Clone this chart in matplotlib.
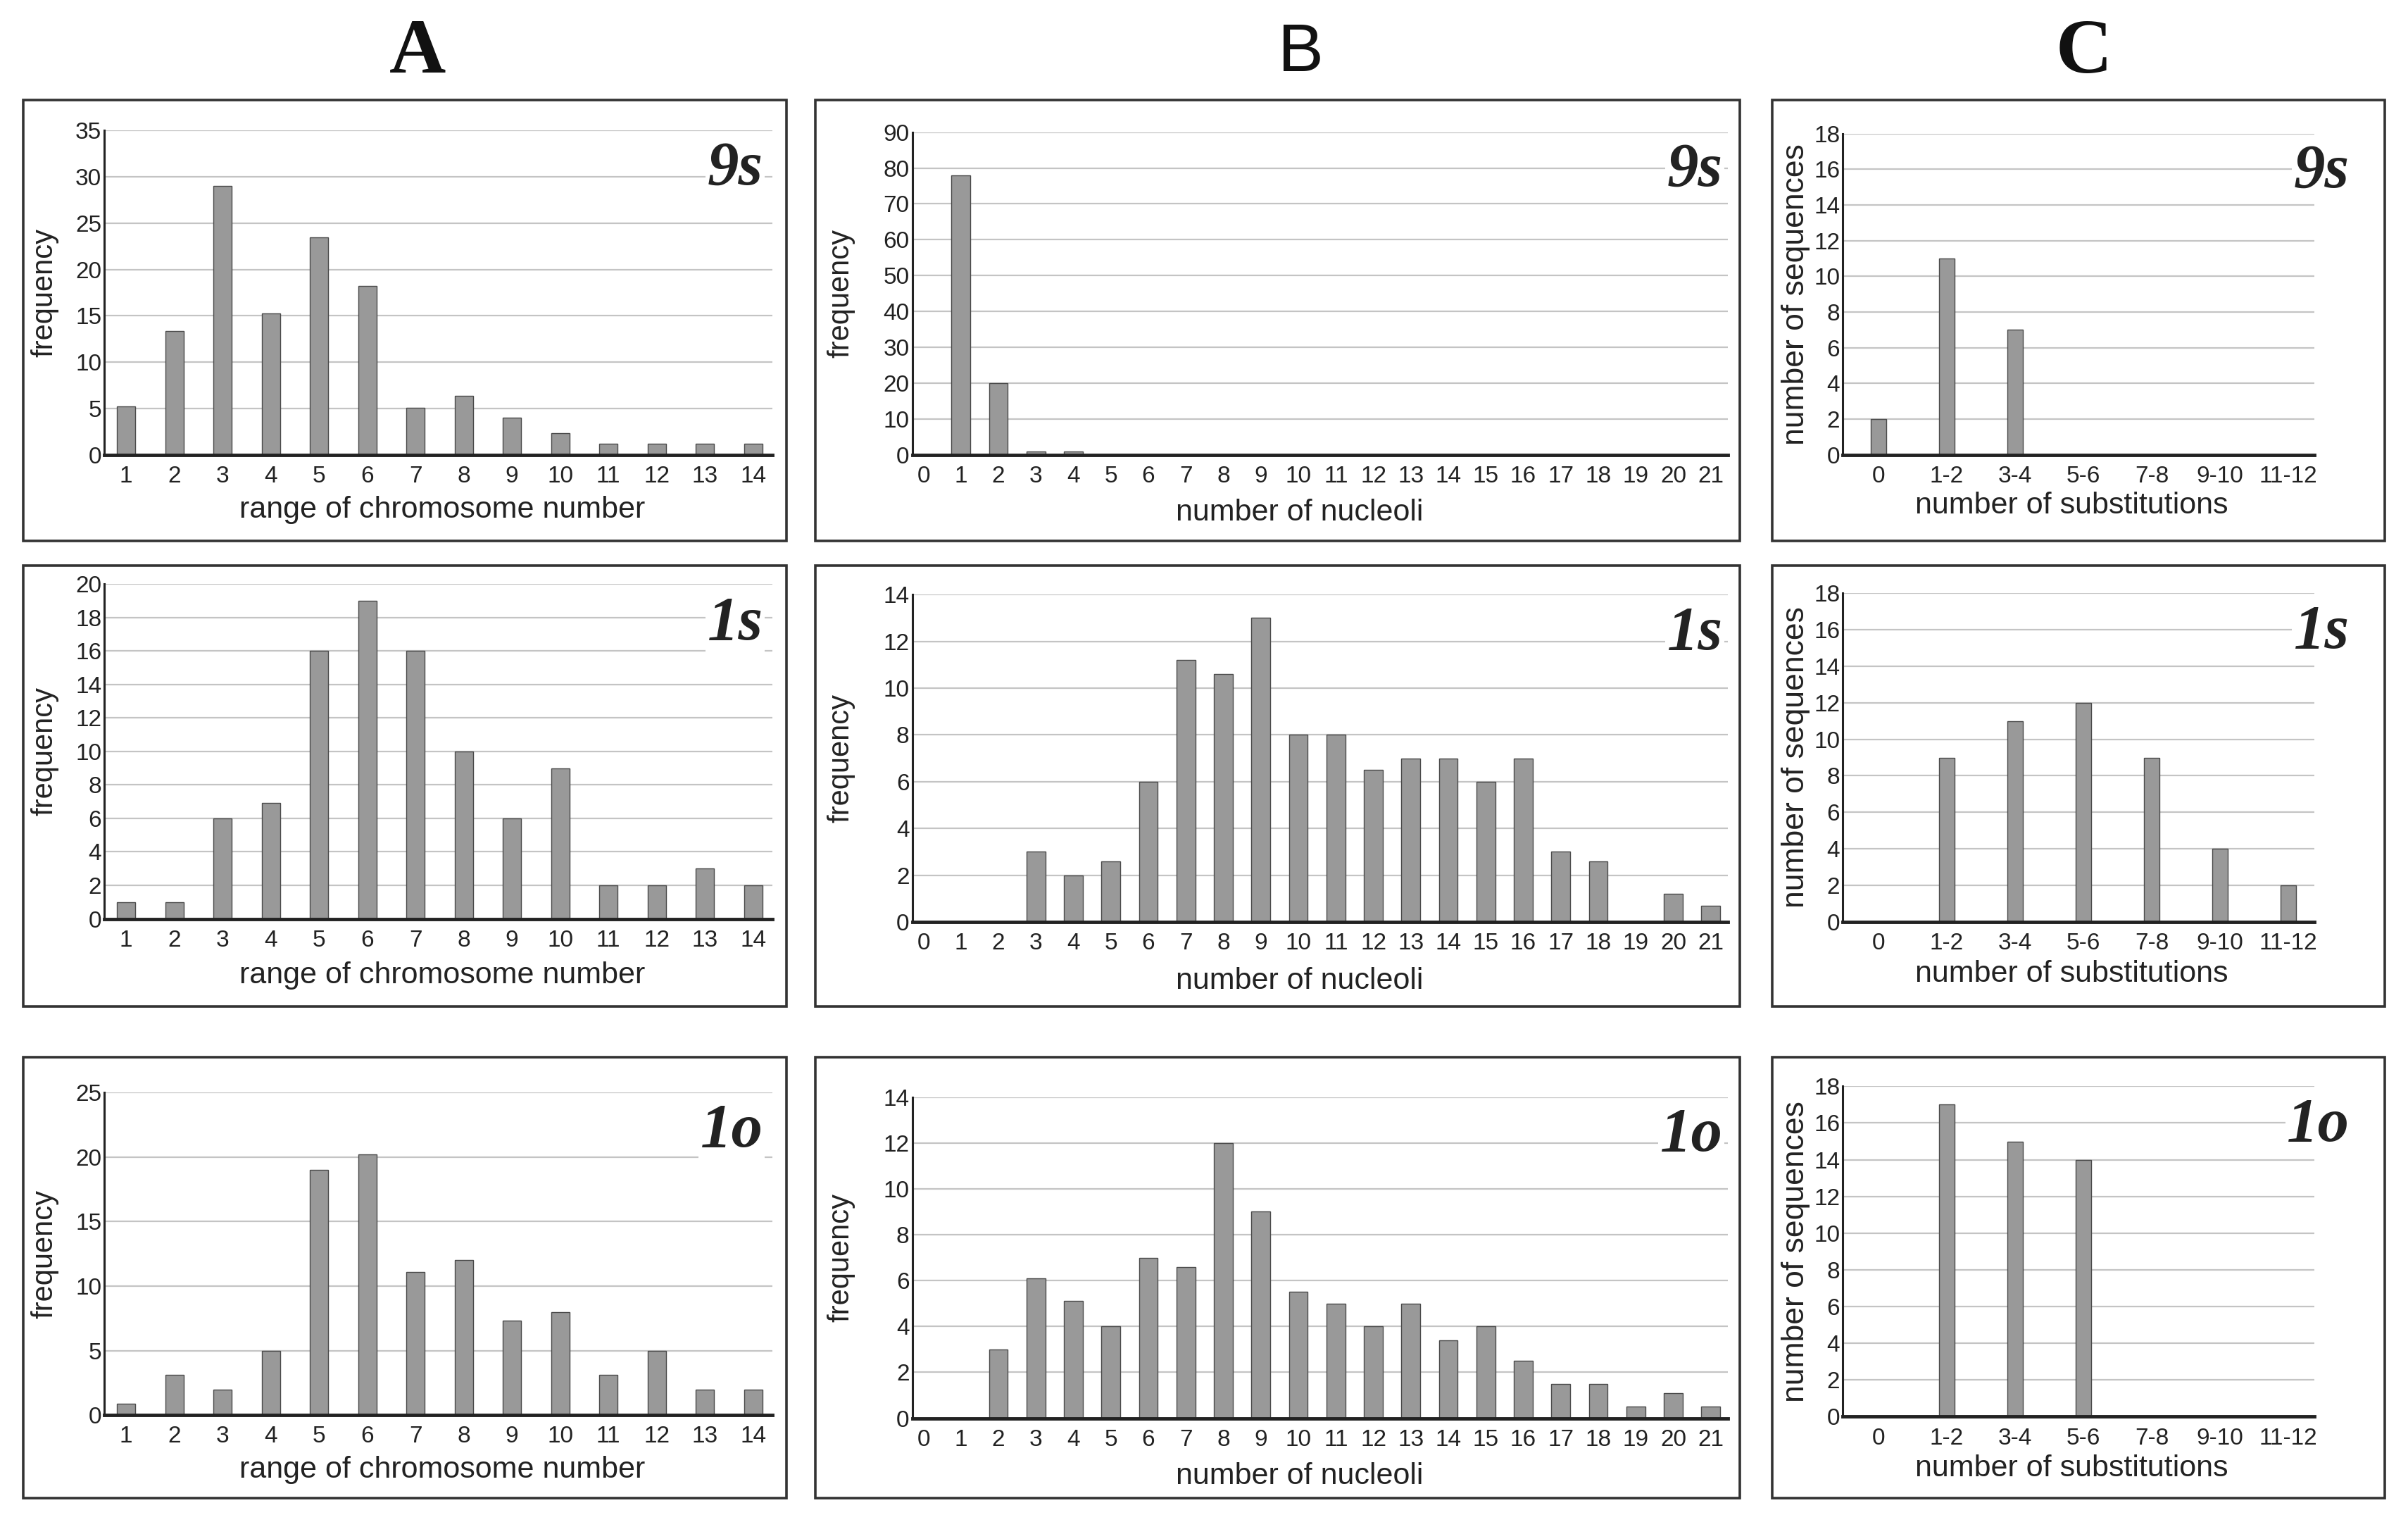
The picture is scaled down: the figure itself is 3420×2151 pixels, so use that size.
import matplotlib
matplotlib.use("Agg")
from matplotlib import pyplot as plt
from matplotlib.patches import Rectangle

# ---- data ----
chrom_range = list(range(1, 15))
nucleoli = list(range(0, 22))
substitutions = ["0", "1-2", "3-4", "5-6", "7-8", "9-10", "11-12"]

a_9s = [5.2, 13.4, 29, 15.3, 23.5, 18.2, 5.1, 6.4, 4, 2.3, 1.2, 1.2, 1.2, 1.2]
a_1s = [1, 1, 6, 6.9, 16, 19, 16, 10, 6, 9, 2, 2, 3, 2]
a_1o = [0.9, 3.1, 2, 5, 19, 20.2, 11.1, 12, 7.3, 8, 3.1, 5, 2, 2]

b_9s = [0, 78, 20, 1, 1, 0, 0, 0, 0, 0, 0, 0, 0, 0, 0, 0, 0, 0, 0, 0, 0, 0]
b_1s = [0, 0, 0, 3, 2, 2.6, 6, 11.2, 10.6, 13, 8, 8, 6.5, 7, 7, 6, 7, 3, 2.6, 0, 1.2, 0.7]
b_1o = [0, 0, 3, 6.1, 5.1, 4, 7, 6.6, 12, 9, 5.5, 5, 4, 5, 3.4, 4, 2.5, 1.5, 1.5, 0.5, 1.1, 0.5]

c_9s = [2, 11, 7, 0, 0, 0, 0]
c_1s = [0, 9, 11, 12, 9, 4, 2]
c_1o = [0, 17, 15, 14, 0, 0, 0]

row_names = ["9s", "1s", "1o"]
col_letters = ["A", "B", "C"]

plt.rcParams['font.family'] = ['Liberation Sans', 'DejaVu Sans']

W, H = 1568.0, 986.0   # layout measured on a scaled copy of the picture
fig = plt.figure(figsize=(34.2, 21.51), dpi=100)
fig.patch.set_facecolor("white")

# column settings: x values, labels, xlim, bar width, axis labels, placement
cols = [
    dict(x=chrom_range, labels=[str(v) for v in chrom_range], xlim=(0.55, 14.4), bw=0.38,
         xlabel="range of chromosome number", ylabel="frequency", ylsize=30,
         left=68, right=503, xl=(0.506, -0.17), yl=-0.09, tagx=0.986),
    dict(x=nucleoli, labels=[str(v) for v in nucleoli], xlim=(-0.3, 21.45), bw=0.5,
         xlabel="number of nucleoli", ylabel="frequency", ylsize=30,
         left=594, right=1125, xl=(0.475, -0.18), yl=-0.087, tagx=0.994),
    dict(x=list(range(len(substitutions))), labels=substitutions, xlim=(-0.52, 6.38), bw=0.23,
         xlabel="number of substitutions", ylabel="number of sequences", ylsize=32,
         left=1200, right=1507, xl=(0.485, -0.158), yl=-0.1, tagx=1.075),
]
values = [[a_9s, b_9s, c_9s], [a_1s, b_1s, c_1s], [a_1o, b_1o, c_1o]]
ylims = [[(35, 5), (90, 10), (18, 2)], [(20, 2), (14, 2), (18, 2)], [(25, 5), (14, 2), (18, 2)]]
tops = [[85, 86, 87], [380, 387, 386], [711, 714, 707]]
bottoms = [[296, 296, 296], [598, 600, 600], [921, 923, 922]]

boxes_x = [(15, 512), (531, 1133), (1154, 1553)]
boxes_y = [(65, 352), (368, 655), (688, 975)]

for r in range(3):
    for c in range(3):
        cfg = cols[c]
        top, bot = tops[r][c], bottoms[r][c]
        ax = fig.add_axes([cfg["left"] / W, 1 - bot / H,
                           (cfg["right"] - cfg["left"]) / W, (bot - top) / H])
        ymax, step = ylims[r][c]
        ax.bar(cfg["x"], values[r][c], width=cfg["bw"], color="#999999",
               edgecolor="#4a4a4a", linewidth=1.0, zorder=3)
        ax.set_xlim(*cfg["xlim"])
        ax.set_ylim(0, ymax)
        ax.set_yticks(range(0, ymax + 1, step))
        ax.set_xticks(cfg["x"])
        ax.set_xticklabels(cfg["labels"])
        ax.tick_params(axis="both", length=0, labelsize=24, colors="#222222")
        ax.tick_params(axis="y", pad=3)
        ax.tick_params(axis="x", pad=11)
        ax.yaxis.grid(True, color="#c4c4c4", linewidth=1.6, zorder=0)
        ax.set_axisbelow(True)
        for s in ["top", "right"]:
            ax.spines[s].set_visible(False)
        ax.spines["left"].set_color("#222222")
        ax.spines["left"].set_linewidth(2.2)
        ax.spines["bottom"].set_color("#222222")
        ax.spines["bottom"].set_linewidth(3.5)
        ax.spines["bottom"].set_zorder(4)
        ax.text(cfg["xl"][0], cfg["xl"][1], cfg["xlabel"], transform=ax.transAxes,
                ha="center", va="center", fontsize=31, color="#222222")
        ax.text(cfg["yl"], 0.5, cfg["ylabel"], transform=ax.transAxes, rotation=90,
                ha="center", va="center", fontsize=cfg["ylsize"], color="#222222")
        ax.text(cfg["tagx"], 0.88, row_names[r], transform=ax.transAxes,
                ha="right", va="center", fontsize=64, fontweight="bold", fontstyle="italic",
                family=["Liberation Serif", "DejaVu Serif"], color="#222222",
                bbox=dict(facecolor="white", edgecolor="none", pad=2), zorder=5,
                clip_on=False)

        x0, x1 = boxes_x[c]
        y0, y1 = boxes_y[r]
        fig.patches.append(Rectangle((x0 / W, 1 - y1 / H), (x1 - x0) / W, (y1 - y0) / H,
                                     transform=fig.transFigure, fill=False,
                                     edgecolor="#333333", linewidth=2.6))

# column letters
letter_x = [272, 847, 1357]
for i, letter in enumerate(col_letters):
    if letter == "B":
        fig.text(letter_x[i] / W, 1 - 35 / H, letter, ha="center", va="center",
                 fontsize=70, color="#111111")
    else:
        fig.text(letter_x[i] / W, 1 - 35 / H, letter, ha="center", va="center",
                 fontsize=80, fontweight="bold", family=["Liberation Serif", "DejaVu Serif"],
                 color="#111111")

fig.savefig("out.png", dpi=100, facecolor="white")
